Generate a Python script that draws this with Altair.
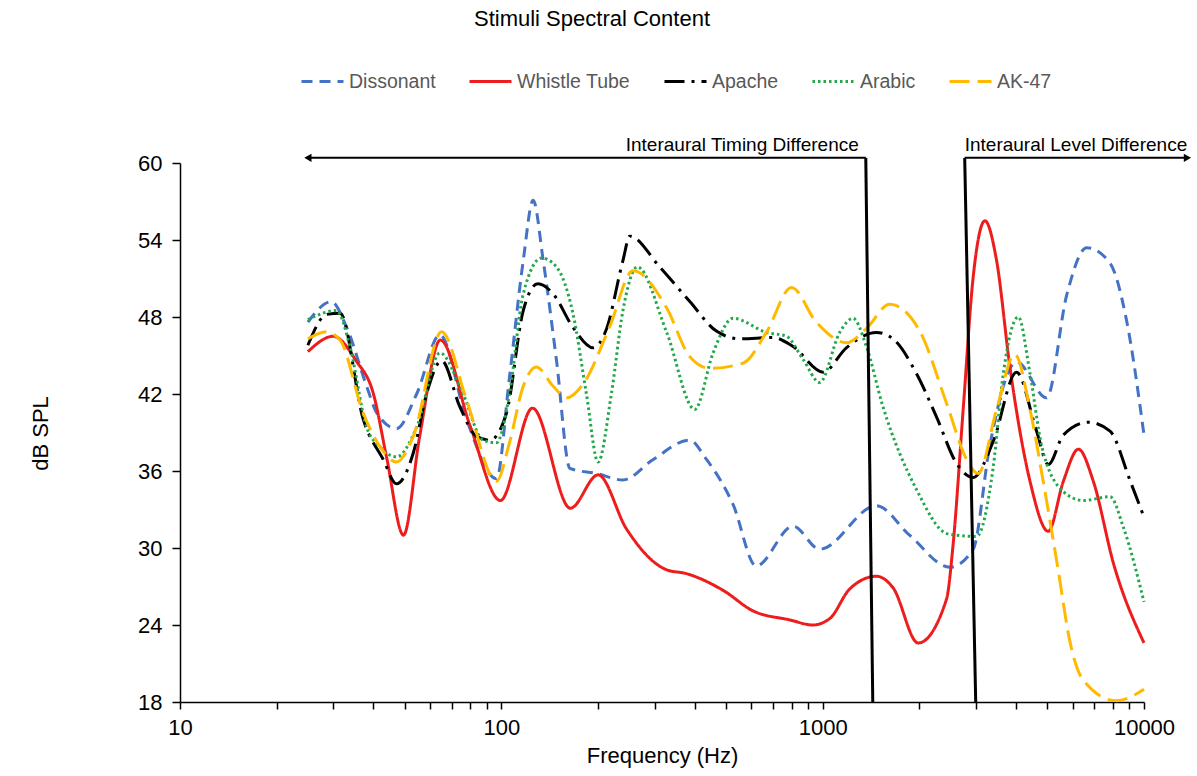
import altair as alt
import pandas as pd

FONT = "Liberation Sans"

series_names = ["Dissonant", "Whistle Tube", "Apache", "Arabic", "AK-47"]
series_colors = ["#4472C4", "#EE1D1D", "#000000", "#22A84A", "#FFBA00"]
series_dashes = [[11, 7], [1, 0], [20, 7, 3, 7], [2.5, 3], [20, 8]]

dissonant_hz = [25, 29.6, 33, 38.1, 41, 47.2, 54.5, 64.4, 78, 96.6, 106, 117, 125.6, 135,
                148.5, 163.5, 198, 239, 297, 385, 435, 526, 621, 809, 979, 1469, 1864,
                2488, 2940, 3313, 4011, 4978, 5746, 6634, 7840, 8830, 10000]
dissonant_db = [47.6, 49.2, 47.2, 42.6, 40.5, 39.3, 42.0, 46.6, 40.0, 35.4, 43.3, 52.4, 57.1, 52.4,
                44.6, 36.2, 35.8, 35.3, 36.9, 38.4, 36.9, 33.4, 28.6, 31.7, 29.9, 33.3, 31.0,
                28.5, 29.9, 38.0, 44.5, 41.7, 49.7, 53.4, 52.2, 47.7, 38.8]

whistle_hz = [25, 30, 35.3, 40, 44, 49.6, 55.7, 64.6, 80, 99.3, 125, 164, 200, 245, 327, 377,
              490, 607, 789, 933, 1052, 1213, 1469, 1656, 1982, 2428, 2545, 2737, 2940, 3198,
              3477, 3826, 4418, 5036, 5611, 6250, 6955, 8035, 10000]
whistle_db = [45.3, 46.5, 44.6, 42.0, 37.0, 31.0, 38.7, 46.2, 39.5, 33.7, 40.9, 33.1, 35.7, 31.5,
              28.3, 28.0, 26.7, 25.1, 24.4, 24.0, 24.5, 26.8, 27.8, 26.9, 22.6, 26.0, 30.2, 40.8,
              51.1, 55.5, 52.4, 44.1, 35.2, 31.3, 35.2, 37.7, 35.2, 28.8, 22.6]

apache_hz = [25, 28.6, 31.5, 37.2, 42.9, 47.2, 53.2, 58.5, 65.2, 74.3, 83.7, 92.1, 103.7, 117,
             130, 145, 167, 193, 212, 239, 251, 311, 386, 467, 552, 700, 809, 1003, 1185, 1469,
             1655, 1958, 2262, 2609, 2940, 3394, 4011, 4632, 5036, 5611, 6715, 7840, 9065, 10000]
apache_db = [45.8, 48.2, 48.3, 40.0, 36.9, 35.0, 37.4, 42.0, 44.6, 41.0, 38.7, 38.4, 40.5, 48.5,
             50.6, 49.8, 47.2, 45.6, 47.0, 52.4, 54.3, 51.9, 49.2, 46.9, 46.3, 46.4, 45.7, 43.7,
             45.6, 46.8, 46.3, 43.6, 40.2, 36.6, 35.5, 38.3, 43.7, 39.1, 36.5, 38.8, 39.8, 39.1,
             35.2, 32.4]

arabic_hz = [25, 30.7, 33.8, 38.1, 41.9, 47.2, 54.5, 64.4, 76, 87.7, 96.6, 106, 117, 133.5,
             148.5, 167, 184, 200, 220, 239, 265, 327, 400, 456, 526, 668, 771, 869, 979, 1130,
             1243, 1368, 1541, 1955, 2450, 3011, 3394, 3649, 4062, 4418, 4800, 5611, 6471, 7840,
             8630, 10000]
arabic_db = [47.8, 48.5, 45.7, 39.4, 37.9, 37.1, 39.4, 45.2, 42.0, 38.4, 38.2, 42.0, 49.8, 52.6,
             51.9, 48.3, 42.0, 36.7, 42.0, 48.5, 51.9, 46.8, 40.8, 45.2, 47.9, 46.8, 46.5, 44.7,
             42.9, 46.8, 47.9, 45.7, 41.0, 34.6, 31.1, 30.9, 36.3, 43.6, 48.0, 43.6, 38.0, 34.4,
             33.7, 34.0, 31.6, 25.8]

ak47_hz = [25, 28.6, 31.5, 37.2, 41.9, 47.2, 53.2, 65.2, 78, 96.6, 106, 117, 128.5, 145, 159.6,
           180, 217, 257, 327, 386, 446, 565, 668, 800, 955, 1185, 1368, 1616, 2005, 2428, 2806,
           3049, 3477, 3962, 4418, 4856, 5405, 5882, 6471, 8207, 10000]
ak47_db = [46.3, 46.85, 46.2, 40.5, 37.9, 36.7, 38.7, 46.85, 41.5, 35.2, 38.2, 42.6, 44.1, 42.6,
           41.7, 42.8, 47.2, 51.6, 48.7, 44.9, 44.0, 44.4, 46.8, 50.3, 47.6, 46.0, 47.1, 49.0,
           46.9, 41.3, 36.9, 35.8, 40.8, 45.1, 40.8, 35.2, 28.3, 22.7, 19.7, 18.1, 19.0]

x_tick_values = [10, 20, 30, 40, 50, 60, 70, 80, 90,
                 100, 200, 300, 400, 500, 600, 700, 800, 900,
                 1000, 2000, 3000, 4000, 5000, 6000, 7000, 8000, 9000, 10000]
y_tick_values = [18, 24, 30, 36, 42, 48, 54, 60]

# annotation: region arrows (Hz / dB)
ann_x = [25, 1362, 2767, 2767]
ann_x2 = [1362, 1432, 2994, 13650]
ann_y = [60.4, 60.4, 60.4, 60.4]
ann_y2 = [60.4, 18, 18, 60.4]
ann_w = [2, 3, 3, 2]
arrow_x = [25, 13650]
arrow_y = [60.4, 60.4]
arrow_shape = ["triangle-left", "triangle-right"]
label_itd = "Interaural Timing Difference"
label_ild = "Interaural Level Difference"

rows = []
for name, hz, db in zip(series_names,
                        [dissonant_hz, whistle_hz, apache_hz, arabic_hz, ak47_hz],
                        [dissonant_db, whistle_db, apache_db, arabic_db, ak47_db]):
    for f, d in zip(hz, db):
        rows.append({"series": name, "hz": f, "db": d})
df = pd.DataFrame(rows)

legend = alt.Legend(
    title=None, orient="none", legendX=120, legendY=-104, direction="horizontal",
    columns=5, symbolType="stroke", symbolSize=1764, symbolStrokeWidth=3,
    labelFont=FONT, labelFontSize=19.5, labelColor="#595959", labelOffset=4,
    columnPadding=27, padding=0,
)

x_enc = alt.X("hz:Q", title="Frequency (Hz)",
              scale=alt.Scale(type="log", domain=[10, 10000], nice=False),
              axis=alt.Axis(values=x_tick_values,
                            labelExpr="(datum.value == 10 || datum.value == 100 || datum.value == 1000 || datum.value == 10000) ? format(datum.value, 'd') : ''",
                            tickSize=7, labelPadding=8, labelFlush=False,
                            titleY=53, titleBaseline="middle"))
y_enc = alt.Y("db:Q", title="dB SPL",
              scale=alt.Scale(domain=[18, 60], nice=False),
              axis=alt.Axis(values=y_tick_values, tickSize=8, labelPadding=10, labelFlush=False,
                            titleX=-140, titleY=270, titleAngle=270,
                            titleBaseline="middle", titleAlign="center"))

lines = alt.Chart(df).mark_line(interpolate="monotone", strokeWidth=3).encode(
    x=x_enc,
    y=y_enc,
    color=alt.Color("series:N", scale=alt.Scale(domain=series_names, range=series_colors), legend=legend),
    strokeDash=alt.StrokeDash("series:N", scale=alt.Scale(domain=series_names, range=series_dashes), legend=legend),
)

ann_df = pd.DataFrame({"x": ann_x, "x2": ann_x2, "y": ann_y, "y2": ann_y2, "w": ann_w})
rules = alt.Chart(ann_df).mark_rule(color="black").encode(
    x="x:Q", x2="x2:Q", y="y:Q", y2="y2:Q",
    strokeWidth=alt.StrokeWidth("w:Q", scale=None),
)

arrow_df = pd.DataFrame({"x": arrow_x, "y": arrow_y, "shape": arrow_shape})
arrows = alt.Chart(arrow_df).mark_point(filled=True, size=70, color="black", opacity=1).encode(
    x="x:Q", y="y:Q", shape=alt.Shape("shape:N", scale=None),
)

itd_df = pd.DataFrame({"x": [ann_x2[0]], "y": [ann_y[0]], "t": [label_itd]})
ild_df = pd.DataFrame({"x": [ann_x[2]], "y": [ann_y[2]], "t": [label_ild]})
itd_text = alt.Chart(itd_df).mark_text(align="right", baseline="alphabetic", dx=-7, dy=-7,
                                        font=FONT, fontSize=19, color="black").encode(
    x="x:Q", y="y:Q", text="t:N")
ild_text = alt.Chart(ild_df).mark_text(align="left", baseline="alphabetic", dx=0, dy=-7,
                                        font=FONT, fontSize=19, color="black").encode(
    x="x:Q", y="y:Q", text="t:N")

chart = alt.layer(lines, rules, arrows, itd_text, ild_text).properties(
    width=964, height=539,
    title=alt.TitleParams("Stimuli Spectral Content", font=FONT, fontSize=22,
                          fontWeight="normal", color="black", dx=-70, dy=-24, anchor="middle"),
    autosize=alt.AutoSizeParams(type="none"),
    padding={"left": 180, "top": 163, "right": 53, "bottom": 74},
).configure_view(stroke=None).configure_axis(
    grid=False, domainColor="black", domainWidth=1.5, tickColor="black", tickWidth=1.5,
    labelColor="black", labelFont=FONT, labelFontSize=22,
    titleFont=FONT, titleFontSize=22, titleFontWeight="normal", titleColor="black",
)

chart.save("out.html", embed_options={"renderer": "svg", "actions": False})
